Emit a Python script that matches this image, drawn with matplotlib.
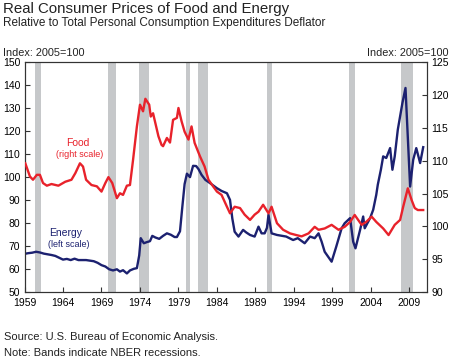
import matplotlib
matplotlib.use("Agg")
import matplotlib.pyplot as plt

plt.rcParams['font.family'] = ['Liberation Sans', 'DejaVu Sans']

# Recession bands (start, end) in decimal years
recessions = [(1960.3, 1961.1), (1969.9, 1970.9), (1973.9, 1975.2), (1980.0, 1980.5),
              (1981.5, 1982.9), (1990.5, 1991.2), (2001.2, 2001.9), (2007.9, 2009.5)]

# Energy (left scale, index 2005=100)
energy_years = [1959.0, 1959.5, 1960.0, 1960.5, 1961.0, 1961.5, 1962.0, 1962.5, 1963.0, 1963.5,
                1964.0, 1964.5, 1965.0, 1965.5, 1966.0, 1967.0, 1968.0, 1968.5, 1969.0, 1969.5,
                1970.0, 1970.5, 1971.0, 1971.4, 1971.8, 1972.3, 1972.7, 1973.2, 1973.6, 1973.9,
                1974.1, 1974.5, 1974.9, 1975.3, 1975.6, 1976.0, 1976.5, 1977.0, 1977.5, 1978.0,
                1978.5, 1978.8, 1979.2, 1979.5, 1979.8, 1980.1, 1980.5, 1980.9, 1981.3, 1981.6,
                1982.0, 1982.5, 1983.1, 1984.0, 1984.6, 1985.3, 1985.7, 1986.0, 1986.3, 1986.8,
                1987.4, 1987.8, 1988.3, 1988.9, 1989.4, 1989.8, 1990.2, 1990.5, 1990.7, 1991.1,
                1991.8, 1993.0, 1993.9, 1994.5, 1995.4, 1996.1, 1996.7, 1997.2, 1997.6, 1998.0,
                1998.9, 1999.5, 2000.2, 2000.6, 2001.3, 2001.7, 2002.0, 2002.6, 2003.0, 2003.2,
                2003.9, 2004.3, 2004.7, 2004.9, 2005.3, 2005.6, 2006.0, 2006.5, 2006.8, 2007.1,
                2007.5, 2008.1, 2008.5, 2009.1, 2009.5, 2009.9, 2010.4, 2010.8]
energy_values = [66.7, 67.0, 67.2, 67.6, 67.3, 66.8, 66.5, 66.2, 65.8, 65.0,
                 64.2, 64.5, 64.0, 64.6, 64.0, 64.0, 63.5, 62.8, 61.8, 61.2,
                 60.0, 59.5, 60.0, 59.0, 59.6, 58.2, 59.5, 60.2, 60.5, 66.0,
                 73.5, 71.3, 71.8, 72.2, 74.5, 73.8, 73.2, 74.5, 75.6, 75.0,
                 74.0, 74.0, 76.5, 87.0, 97.0, 101.5, 100.0, 104.9, 104.8, 103.5,
                 101.0, 98.8, 97.4, 95.2, 94.0, 93.0, 90.1, 82.0, 76.3, 74.2,
                 77.1, 76.0, 74.9, 74.2, 78.5, 75.6, 75.6, 78.0, 83.6, 75.6,
                 74.9, 74.2, 72.7, 73.5, 71.3, 74.2, 73.5, 75.6, 72.0, 67.6,
                 63.3, 69.8, 77.8, 80.0, 82.2, 72.0, 69.1, 77.1, 82.9, 77.8,
                 82.2, 85.8, 92.3, 96.7, 103.2, 109.0, 108.3, 112.6, 103.2, 109.0,
                 120.6, 132.2, 138.7, 95.9, 107.5, 112.6, 106.1, 113.0]

# Food (right scale, index 2005=100)
food_years = [1959.1, 1959.7, 1960.1, 1960.6, 1961.0, 1961.4, 1961.9, 1962.5, 1963.4, 1964.3,
              1965.1, 1965.6, 1966.2, 1966.6, 1967.0, 1967.7, 1968.4, 1969.0, 1969.5, 1969.9,
              1970.4, 1971.0, 1971.4, 1971.8, 1972.3, 1972.7, 1973.1, 1973.6, 1974.0, 1974.4,
              1974.7, 1975.2, 1975.4, 1975.7, 1976.4, 1976.8, 1977.0, 1977.5, 1977.9, 1978.3,
              1978.8, 1979.0, 1979.4, 1979.8, 1980.3, 1980.7, 1981.1, 1981.8, 1982.4, 1982.9,
              1983.5, 1984.0, 1984.6, 1985.3, 1985.7, 1986.3, 1987.0, 1987.6, 1988.3, 1988.9,
              1989.4, 1990.0, 1990.7, 1991.1, 1991.8, 1992.6, 1993.5, 1994.3, 1995.0, 1995.9,
              1996.7, 1997.2, 1998.0, 1998.9, 1999.8, 2000.6, 2001.3, 2001.9, 2002.8, 2003.4,
              2004.1, 2004.7, 2005.6, 2006.3, 2007.1, 2007.8, 2008.2, 2008.8, 2009.3, 2009.7,
              2010.1, 2010.8]
food_values = [109.6, 107.6, 107.1, 107.85, 107.85, 106.6, 106.2, 106.45, 106.2, 106.8,
               107.1, 108.1, 109.6, 109.1, 107.1, 106.3, 106.1, 105.3, 106.6, 107.5,
               106.6, 104.3, 105.05, 104.8, 106.2, 106.3, 110.1, 115.2, 118.5, 117.5,
               119.4, 118.5, 116.7, 117.2, 113.7, 112.4, 112.2, 113.45, 112.75, 116.2,
               116.5, 118.0, 116.0, 114.4, 113.2, 115.2, 112.7, 110.65, 109.1, 107.1,
               106.1, 105.3, 104.8, 103.0, 102.0, 103.0, 102.8, 101.8, 101.0, 101.8,
               102.25, 103.3, 102.0, 103.0, 100.5, 99.5, 98.95, 98.7, 98.5, 98.95,
               99.95, 99.5, 99.7, 100.25, 99.5, 99.95, 100.7, 101.75, 100.25, 100.7,
               101.5, 100.7, 99.7, 98.7, 100.25, 101.0, 103.0, 105.8, 104.0, 102.8,
               102.5, 102.5]

year_ticks = [1959, 1964, 1969, 1974, 1979, 1984, 1989, 1994, 1999, 2004, 2009]
left_ticks = list(range(50, 151, 10))
right_ticks = list(range(90, 126, 5))

red = '#E8222B'
navy = '#1C2170'
band = '#C6C8CA'

fig = plt.figure(figsize=(4.5, 3.6), dpi=100)
ax = fig.add_axes([0.0545, 0.188, 0.8945, 0.640])
ax2 = ax.twinx()

for s, e in recessions:
    ax.axvspan(s, e, color=band, lw=0, zorder=0)

ax.plot(energy_years, energy_values, color=navy, lw=1.7, zorder=3)
ax2.plot(food_years, food_values, color=red, lw=1.7, zorder=3)

ax.set_xlim(1959, 2011.3)
ax.set_ylim(50, 150)
ax2.set_ylim(90, 125)
ax.set_xticks(year_ticks)
ax.set_xticklabels([str(y) for y in year_ticks])
ax.set_yticks(left_ticks)
ax2.set_yticks(right_ticks)

for a in (ax, ax2):
    for sp in a.spines.values():
        sp.set_linewidth(0.8)
        sp.set_color('#333333')
ax.tick_params(axis='both', direction='in', length=3.5, width=0.8, labelsize=7.5,
               color='#333333', pad=3)
ax.tick_params(axis='x', pad=4)
ax2.tick_params(axis='y', direction='in', length=3.5, width=0.8, labelsize=7.5,
                color='#333333', pad=3)

ax.text(1965.9, 115, 'Food', color=red, fontsize=7.5, ha='center', va='center')
ax.text(1966.2, 109.7, '(right scale)', color=red, fontsize=6.5, ha='center', va='center')
ax.text(1964.3, 75.7, 'Energy', color=navy, fontsize=7.5, ha='center', va='center')
ax.text(1964.7, 70.9, '(left scale)', color=navy, fontsize=6.5, ha='center', va='center')

fig.text(0.007, 0.974, 'Real Consumer Prices of Food and Energy', fontsize=10.8,
         ha='left', va='center', color='#222222')
fig.text(0.007, 0.936, 'Relative to Total Personal Consumption Expenditures Deflator',
         fontsize=8.5, ha='left', va='center', color='#222222')
fig.text(0.007, 0.854, 'Index: 2005=100', fontsize=7.8, ha='left', va='center', color='#222222')
fig.text(0.997, 0.854, 'Index: 2005=100', fontsize=7.8, ha='right', va='center', color='#222222')
fig.text(0.010, 0.065, 'Source: U.S. Bureau of Economic Analysis.', fontsize=8.0,
         ha='left', va='center', color='#222222')
fig.text(0.010, 0.020, 'Note: Bands indicate NBER recessions.', fontsize=8.0,
         ha='left', va='center', color='#222222')

fig.savefig('out.png', dpi=100)
